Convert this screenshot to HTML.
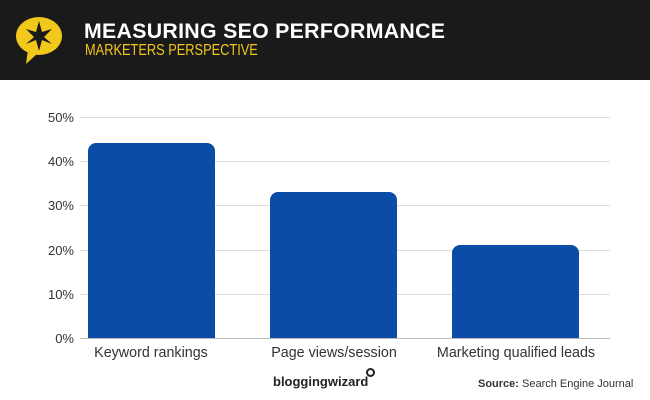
<!DOCTYPE html>
<html><head><style>
body{margin:0;width:650px;height:400px;background:#fff;font-family:"Liberation Sans",sans-serif;position:relative;overflow:hidden}
.hdr{position:absolute;left:0;top:0;width:650px;height:80px;background:#1a1a1a}
.t1{position:absolute;left:84px;top:19px;color:#fff;font-weight:bold;font-size:21.3px;letter-spacing:0.3px}
.t2{position:absolute;left:85px;top:42px;color:#f2c81c;font-size:16px;transform:scaleX(0.8);transform-origin:left}
.g{position:absolute;left:80px;width:530px;height:1px;background:#ddd}
.yl{position:absolute;left:40px;width:34px;text-align:right;font-size:13px;color:#333}
.bar{position:absolute;background:#0a4ca6;border-radius:8px 8px 0 0;bottom:62px;width:127px}
.xl{position:absolute;top:345px;font-size:14.3px;color:#333;text-align:center;width:220px}
</style></head><body>
<div class="hdr">
<svg style="position:absolute;left:12px;top:12px" width="56" height="54" viewBox="0 0 56 54">
<ellipse cx="27" cy="24" rx="23" ry="19" fill="#f2c81c"/>
<polygon points="16,38 14,52 26,41" fill="#f2c81c"/>
<polygon points="27,9 30,20 40,17 32,25 40,32 30,28 27,39 24,28 14,32 22,25 14,17 24,20" fill="#1a1a1a"/>
</svg>
<div class="t1">MEASURING SEO PERFORMANCE</div>
<div class="t2">MARKETERS PERSPECTIVE</div>
</div>
<div class="g" style="top:117px"></div><div class="g" style="top:161px"></div><div class="g" style="top:205px"></div><div class="g" style="top:250px"></div><div class="g" style="top:294px"></div><div class="g" style="top:338px;background:#bbb"></div>
<div class="yl" style="top:110px">50%</div><div class="yl" style="top:154px">40%</div><div class="yl" style="top:198px">30%</div><div class="yl" style="top:243px">20%</div><div class="yl" style="top:287px">10%</div><div class="yl" style="top:331px">0%</div>
<div class="bar" style="left:88px;height:195px"></div>
<div class="bar" style="left:270px;height:146px"></div>
<div class="bar" style="left:452px;height:93px"></div>
<div class="xl" style="left:41px">Keyword rankings</div>
<div class="xl" style="left:224px">Page views/session</div>
<div class="xl" style="left:406px">Marketing qualified leads</div>
<div style="position:absolute;left:273px;top:374px;font-weight:bold;font-size:13px;color:#222">bloggingwizard</div>
<div style="position:absolute;left:366px;top:368px;width:5px;height:5px;border:2px solid #222;border-radius:50%"></div>
<div style="position:absolute;left:478px;top:378px;font-size:11px;color:#333"><b>Source:</b> Search Engine Journal</div>
</body></html>
